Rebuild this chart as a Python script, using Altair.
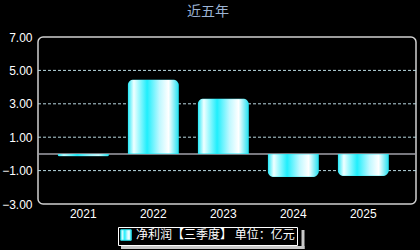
import altair as alt
import pandas as pd

years = ["2021", "2022", "2023", "2024", "2025"]
values = [-0.14, 4.46, 3.31, -1.39, -1.33]
series = ["净利润【三季度】 单位：亿元"] * 5
y_ticks = [-3, -1, 1, 3, 5, 7]
grid_vals = [-1, 1, 3, 5]

df = pd.DataFrame({"year": years, "value": values, "series": series})
grid_df = pd.DataFrame({"value": grid_vals})
zero_df = pd.DataFrame({"value": [0]})

grad = alt.Gradient(
    gradient="linear",
    stops=[
        alt.GradientStop(color="#20e8f8", offset=0),
        alt.GradientStop(color="#f0ffff", offset=0.12),
        alt.GradientStop(color="#20eefc", offset=0.38),
        alt.GradientStop(color="#bff8ff", offset=0.62),
        alt.GradientStop(color="#ffffff", offset=0.8),
        alt.GradientStop(color="#20e0f0", offset=1),
    ],
    x1=0, x2=1, y1=0, y2=0,
)

xscale = alt.Scale(paddingInner=0.27, paddingOuter=0.335, align=0.42)
yscale = alt.Scale(domain=[-3, 7], nice=False, zero=False)
y_axis = alt.Axis(title=None, values=y_ticks, format=".2f", grid=False, ticks=False,
                  domain=False, labelColor="white", labelFontSize=12,
                  labelFont="Liberation Sans", labelPadding=6,
                  labelOverlap=False, labelBound=False)

y_enc = alt.Y("value:Q", scale=yscale, axis=y_axis)

grid = alt.Chart(grid_df).mark_rule(color="#b8d8e0", strokeDash=[3, 2], strokeWidth=1).encode(
    y=y_enc
)

zero = alt.Chart(zero_df).mark_rule(color="#a0a0a8", strokeWidth=1.5).encode(
    y=y_enc
)

x_enc = alt.X("year:N", scale=xscale, sort=years,
              axis=alt.Axis(title=None, labelAngle=0, ticks=False, domain=False,
                            labelColor="white", labelFontSize=12, labelFont="Liberation Sans",
                            labelPadding=4))
stroke_enc = alt.Stroke("series:N", scale=alt.Scale(range=["#22e4f0"]),
                        legend=alt.Legend(title=None, orient="none", legendX=80, legendY=190,
                                          symbolType="square", symbolFillColor="#22e4f0",
                                          symbolStrokeColor="white", symbolStrokeWidth=1,
                                          symbolSize=110,
                                          labelColor="white", labelFontSize=12,
                                          labelFont="Noto Sans CJK SC",
                                          strokeColor="white", fillColor="black",
                                          padding=2, labelLimit=300))

pos_bars = alt.Chart(df).transform_filter("datum.value >= 0").mark_bar(
    fill=grad, cornerRadiusTopLeft=6, cornerRadiusTopRight=6, strokeWidth=0.8
).encode(x=x_enc, y=y_enc, stroke=stroke_enc)

neg_bars = alt.Chart(df).transform_filter("datum.value < 0").mark_bar(
    fill=grad, cornerRadiusBottomLeft=6, cornerRadiusBottomRight=6, strokeWidth=0.8
).encode(x=x_enc, y=y_enc, stroke=stroke_enc)

shadow_v = alt.Chart(pd.DataFrame({"k": [1]})).mark_rule(color="#c8c8c8", strokeWidth=3).encode(
    x=alt.value(265), y=alt.value(193), y2=alt.value(212)
)
shadow_h = alt.Chart(pd.DataFrame({"k": [1]})).mark_rule(color="#c8c8c8", strokeWidth=3).encode(
    x=alt.value(83), x2=alt.value(266.5), y=alt.value(210.5)
)

chart = alt.layer(grid, zero, pos_bars, neg_bars, shadow_v, shadow_h).properties(
    width=378, height=167,
    title=alt.TitleParams("近五年", color="#9cb4d4", fontSize=14, font="Noto Sans CJK SC",
                          fontWeight="normal", anchor="middle", dx=-19, offset=12),
    background="black",
    padding={"left": 38, "top": 37, "right": 4, "bottom": 46},
    autosize=alt.AutoSizeParams(type="none"),
).configure_view(stroke="#d0d0d0", strokeWidth=1.5, cornerRadius=5)

chart.save("out.html", embed_options={"renderer": "svg", "actions": False})
